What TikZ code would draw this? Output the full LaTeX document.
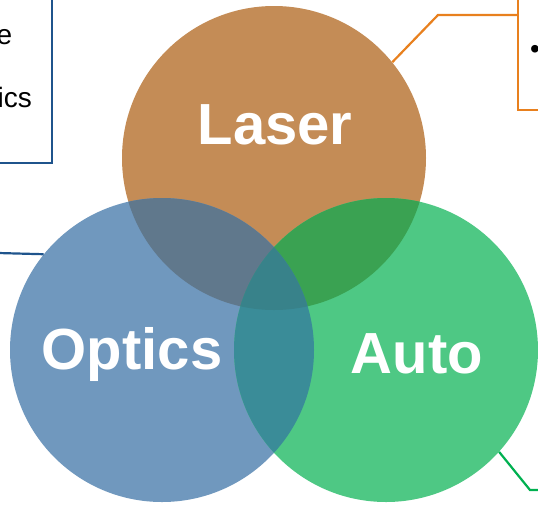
\documentclass[tikz,border=0pt]{standalone}
\usepackage{fontspec}
\setmainfont{Liberation Sans}
\definecolor{laserc}{RGB}{196,140,86}
\definecolor{opticsc}{RGB}{112,152,190}
\definecolor{autoc}{RGB}{78,200,132}
\definecolor{lo}{RGB}{96,120,140}
\definecolor{la}{RGB}{58,162,82}
\definecolor{oa}{RGB}{58,140,152}
\definecolor{loa}{RGB}{56,130,138}
\definecolor{bluebox}{RGB}{31,84,140}
\definecolor{orangebox}{RGB}{232,128,30}
\definecolor{greenline}{RGB}{0,176,80}
\tikzset{
  venn/.style={circle,minimum size=304pt,inner sep=0pt,draw=none},
  big/.style={text=white,font=\fontsize{58}{60}\selectfont\bfseries,inner sep=0pt},
  small/.style={text=black,font=\fontsize{28}{30}\selectfont,inner sep=0pt},
  conn/.style={line width=2.2pt}
}
\begin{document}
\begin{tikzpicture}[x=1pt,y=-1pt]
\useasboundingbox (0,0) rectangle (538,504);
% circles
\node[venn,fill=laserc] (laser) at (274,158) {};
\node[venn,fill=opticsc] (optics) at (162,350) {};
\node[venn,fill=autoc] (auto) at (386,350) {};
% pairwise overlaps
\begin{scope}
  \clip (274,158) circle (152);
  \fill[lo] (162,350) circle (152);
  \fill[la] (386,350) circle (152);
\end{scope}
\begin{scope}
  \clip (162,350) circle (152);
  \fill[oa] (386,350) circle (152);
\end{scope}
\begin{scope}
  \clip (274,158) circle (152);
  \clip (162,350) circle (152);
  \fill[loa] (386,350) circle (152);
\end{scope}
% labels
\node[big] (tlaser) at (275,125) {Laser};
\node[big] (toptics) at (132,354) {Optics};
\node[big] (tauto) at (417,354) {Auto};
% top-left box
\coordinate (blt) at (52,-5);
\coordinate (blb) at (52,163);
\coordinate (blbl) at (-5,163);
\draw[bluebox,line width=2pt] (blt) -- (blb) -- (blbl);
\node[small,anchor=base east] (te) at (12.5,44) {e};
\node[small,anchor=base east] (tics) at (32,107) {ics};
% top-right box
\coordinate (brt) at (518,-5);
\coordinate (brb) at (518,110);
\coordinate (brbr) at (545,110);
\draw[orangebox,line width=2pt] (brt) -- (brb) -- (brbr);
\node[small,anchor=center] (bullet) at (535,52) {•};
% connectors
\coordinate (lelbow) at (438,15);
\coordinate (lend) at (518,15);
\draw[orangebox,conn] (laser.39.7) -- (lelbow) -- (lend);
\coordinate (oend) at (-2,253);
\draw[bluebox,conn] (optics.141.6) -- (oend);
\coordinate (aelbow) at (530,490);
\coordinate (aend) at (540,490);
\draw[greenline,conn] (auto.-42.9) -- (aelbow) -- (aend);
\end{tikzpicture}
\end{document}
